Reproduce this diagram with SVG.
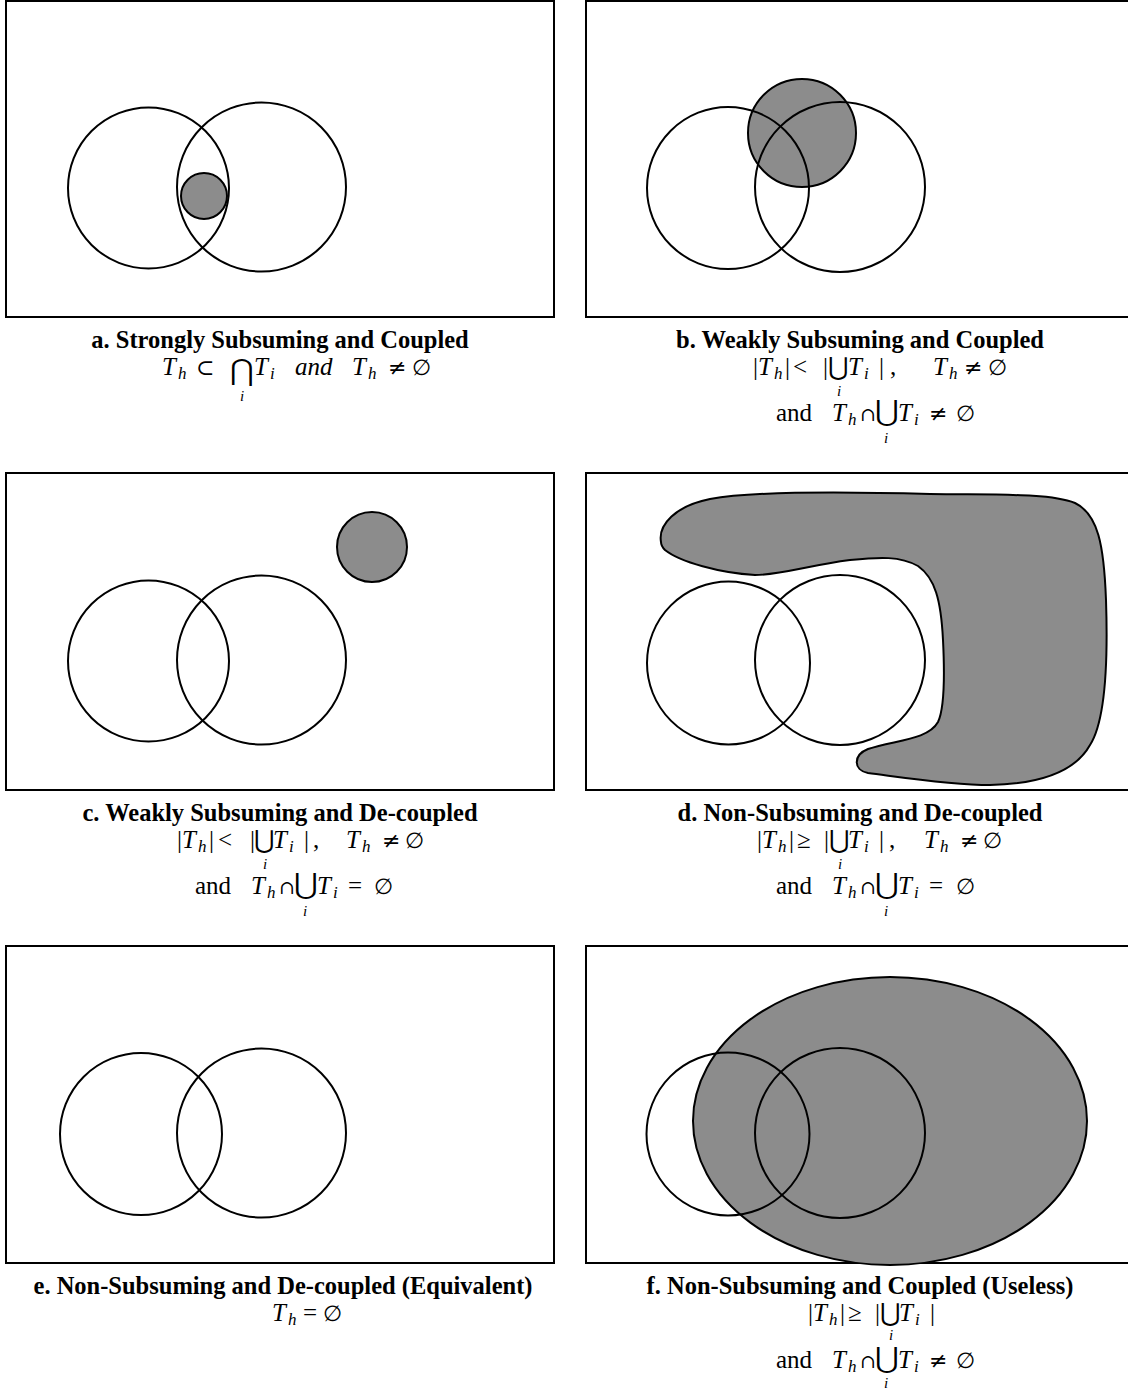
<svg xmlns="http://www.w3.org/2000/svg" width="1128" height="1390" viewBox="0 0 1128 1390">
<style>
.box{fill:#fff;stroke:#000;stroke-width:2}
.c{fill:none;stroke:#000;stroke-width:2}
.g{fill:#8c8c8c;stroke:#000;stroke-width:2}
.ttl{font-family:"Liberation Serif",serif;font-weight:bold;font-size:24.5px;text-anchor:middle;fill:#000}
.m{font-family:"Liberation Serif","DejaVu Serif",serif;font-size:25px;fill:#000}
.it{font-style:italic}
.sb{font-style:italic;font-size:17px}
.sl{font-style:italic;font-size:15px}
.op{font-family:"DejaVu Serif",serif;font-size:25px}
.bop{font-family:"DejaVu Serif",serif;font-size:29px}
.sy{font-family:"DejaVu Serif",serif;font-size:22px}
.ca{font-family:"DejaVu Serif",serif;font-size:19px}
</style>
<rect width="1128" height="1390" fill="#fff"/>
<g id="connectors"/>

<g id="panel-a">
<rect class="box" x="6" y="1" width="548" height="316"/>
<circle class="g" cx="204" cy="196" r="23"/>
<circle class="c" cx="148.5" cy="188" r="80.5"/>
<circle class="c" cx="261.5" cy="187" r="84.5"/>
<text class="ttl" x="280" y="348">a. Strongly Subsuming and Coupled</text>
<text class="m"><tspan class="it" x="162" y="375">T</tspan><tspan class="sb" x="178" y="379">h</tspan><tspan class="sy" x="196" y="375">⊂</tspan><tspan class="bop" x="230" y="380">⋂</tspan><tspan class="sl" x="240" y="401">i</tspan><tspan class="it" x="254" y="375">T</tspan><tspan class="sb" x="270" y="379">i</tspan><tspan class="it" x="295" y="375">and</tspan><tspan class="it" x="352" y="375">T</tspan><tspan class="sb" x="368" y="379">h</tspan><tspan class="sy" x="388" y="375">≠</tspan><tspan class="sy" x="412" y="375">∅</tspan></text>
</g>

<g id="panel-b">
<rect class="box" x="586" y="1" width="548" height="316"/>
<circle class="g" cx="802" cy="133" r="54"/>
<circle class="c" cx="728" cy="188" r="81"/>
<circle class="c" cx="840" cy="187" r="85"/>
<text class="ttl" x="860" y="348">b. Weakly Subsuming and Coupled</text>
<text class="m"><tspan x="753" y="375">|</tspan><tspan class="it" x="758" y="375">T</tspan><tspan class="sb" x="774" y="379">h</tspan><tspan x="785" y="375">|</tspan><tspan x="793" y="375">&lt;</tspan><tspan x="823" y="375">|</tspan><tspan class="op" x="828" y="375">⋃</tspan><tspan class="sl" x="837" y="396">i</tspan><tspan class="it" x="848" y="375">T</tspan><tspan class="sb" x="864" y="379">i</tspan><tspan x="879" y="375">|</tspan><tspan x="890" y="375">,</tspan><tspan class="it" x="933" y="375">T</tspan><tspan class="sb" x="949" y="379">h</tspan><tspan class="sy" x="964" y="375">≠</tspan><tspan class="sy" x="988" y="375">∅</tspan></text>
<text class="m"><tspan x="776" y="421">and</tspan><tspan class="it" x="832" y="421">T</tspan><tspan class="sb" x="848" y="425">h</tspan><tspan class="ca" x="860" y="421">∩</tspan><tspan class="bop" x="875" y="421">⋃</tspan><tspan class="sl" x="884" y="443">i</tspan><tspan class="it" x="898" y="421">T</tspan><tspan class="sb" x="914" y="425">i</tspan><tspan class="sy" x="929" y="421">≠</tspan><tspan class="sy" x="956" y="421">∅</tspan></text>
</g>

<g id="panel-c">
<rect class="box" x="6" y="473" width="548" height="317"/>
<circle class="g" cx="372" cy="547" r="35"/>
<circle class="c" cx="148.5" cy="661" r="80.5"/>
<circle class="c" cx="261.5" cy="660" r="84.5"/>
<text class="ttl" x="280" y="821">c. Weakly Subsuming and De-coupled</text>
<text class="m"><tspan x="177" y="848">|</tspan><tspan class="it" x="182" y="848">T</tspan><tspan class="sb" x="198" y="852">h</tspan><tspan x="209" y="848">|</tspan><tspan x="218" y="848">&lt;</tspan><tspan x="250" y="848">|</tspan><tspan class="op" x="254" y="848">⋃</tspan><tspan class="sl" x="263" y="869">i</tspan><tspan class="it" x="273" y="848">T</tspan><tspan class="sb" x="289" y="852">i</tspan><tspan x="304" y="848">|</tspan><tspan x="313" y="848">,</tspan><tspan class="it" x="346" y="848">T</tspan><tspan class="sb" x="362" y="852">h</tspan><tspan class="sy" x="382" y="848">≠</tspan><tspan class="sy" x="405" y="848">∅</tspan></text>
<text class="m"><tspan x="195" y="894">and</tspan><tspan class="it" x="251" y="894">T</tspan><tspan class="sb" x="267" y="898">h</tspan><tspan class="ca" x="279" y="894">∩</tspan><tspan class="bop" x="294" y="894">⋃</tspan><tspan class="sl" x="303" y="916">i</tspan><tspan class="it" x="317" y="894">T</tspan><tspan class="sb" x="333" y="898">i</tspan><tspan x="348" y="894">=</tspan><tspan class="sy" x="374" y="894">∅</tspan></text>
</g>

<g id="panel-d">
<rect class="box" x="586" y="473" width="548" height="317"/>
<path class="g" d="M661,542 C658,525 675,506 710,499 C760,490 860,492 930,494 C1000,495 1050,493 1075,503 C1098,514 1104,545 1106,600 C1108,660 1106,720 1090,745 C1075,772 1040,784 990,785 C950,785 900,777 868,773 C853,770 853,755 868,749 C895,740 928,740 938,722 C946,705 944,660 943,640 C941,600 935,578 918,566 C900,556 880,557 850,560 C810,565 780,575 755,575 C720,573 680,562 665,550 C662,547 661,545 661,542 Z"/>
<circle class="c" cx="728.5" cy="663" r="81.5"/>
<circle class="c" cx="840" cy="660" r="85"/>
<text class="ttl" x="860" y="821">d. Non-Subsuming and De-coupled</text>
<text class="m"><tspan x="757" y="848">|</tspan><tspan class="it" x="762" y="848">T</tspan><tspan class="sb" x="778" y="852">h</tspan><tspan x="789" y="848">|</tspan><tspan x="797" y="848">≥</tspan><tspan x="824" y="848">|</tspan><tspan class="op" x="829" y="848">⋃</tspan><tspan class="sl" x="838" y="869">i</tspan><tspan class="it" x="848" y="848">T</tspan><tspan class="sb" x="864" y="852">i</tspan><tspan x="879" y="848">|</tspan><tspan x="889" y="848">,</tspan><tspan class="it" x="924" y="848">T</tspan><tspan class="sb" x="940" y="852">h</tspan><tspan class="sy" x="960" y="848">≠</tspan><tspan class="sy" x="983" y="848">∅</tspan></text>
<text class="m"><tspan x="776" y="894">and</tspan><tspan class="it" x="832" y="894">T</tspan><tspan class="sb" x="848" y="898">h</tspan><tspan class="ca" x="860" y="894">∩</tspan><tspan class="bop" x="875" y="894">⋃</tspan><tspan class="sl" x="884" y="916">i</tspan><tspan class="it" x="898" y="894">T</tspan><tspan class="sb" x="914" y="898">i</tspan><tspan x="929" y="894">=</tspan><tspan class="sy" x="956" y="894">∅</tspan></text>
</g>

<g id="panel-e">
<rect class="box" x="6" y="946" width="548" height="317"/>
<circle class="c" cx="141" cy="1134" r="81"/>
<circle class="c" cx="261.5" cy="1133" r="84.5"/>
<text class="ttl" x="283" y="1294">e. Non-Subsuming and De-coupled (Equivalent)</text>
<text class="m"><tspan class="it" x="272" y="1321">T</tspan><tspan class="sb" x="288" y="1325">h</tspan><tspan x="303" y="1321">=</tspan><tspan class="sy" x="323" y="1321">∅</tspan></text>
</g>

<g id="panel-f">
<rect class="box" x="586" y="946" width="548" height="317"/>
<ellipse class="g" cx="890" cy="1121" rx="197" ry="144"/>
<circle class="c" cx="728" cy="1134" r="81.5"/>
<circle class="c" cx="840" cy="1133" r="85"/>
<text class="ttl" x="860" y="1294">f. Non-Subsuming and Coupled (Useless)</text>
<text class="m"><tspan x="808" y="1321">|</tspan><tspan class="it" x="813" y="1321">T</tspan><tspan class="sb" x="829" y="1325">h</tspan><tspan x="840" y="1321">|</tspan><tspan x="848" y="1321">≥</tspan><tspan x="875" y="1321">|</tspan><tspan class="op" x="880" y="1321">⋃</tspan><tspan class="sl" x="889" y="1340">i</tspan><tspan class="it" x="899" y="1321">T</tspan><tspan class="sb" x="915" y="1325">i</tspan><tspan x="930" y="1321">|</tspan></text>
<text class="m"><tspan x="776" y="1368">and</tspan><tspan class="it" x="832" y="1368">T</tspan><tspan class="sb" x="848" y="1372">h</tspan><tspan class="ca" x="860" y="1368">∩</tspan><tspan class="bop" x="875" y="1368">⋃</tspan><tspan class="sl" x="884" y="1388">i</tspan><tspan class="it" x="898" y="1368">T</tspan><tspan class="sb" x="914" y="1372">i</tspan><tspan class="sy" x="929" y="1368">≠</tspan><tspan class="sy" x="956" y="1368">∅</tspan></text>
</g>
</svg>
